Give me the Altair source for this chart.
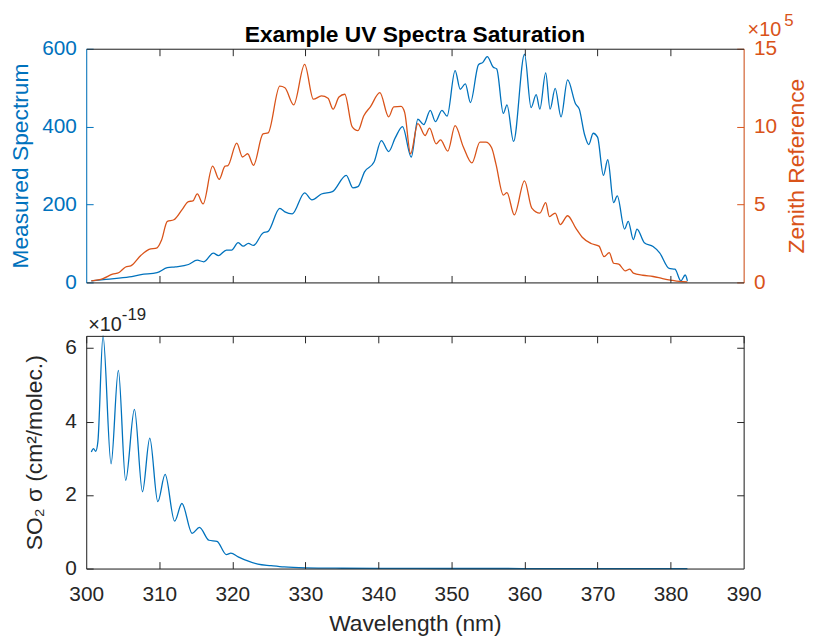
import altair as alt
import pandas as pd

# ---------------- data ----------------
wl_meas = [300.7, 302.7, 305.9, 307.5, 309.7, 311.1, 312.2, 314.0, 315.2, 316.1,
           317.4, 318.1, 319.2, 319.9, 320.8, 321.5, 322.2, 322.9, 324.2, 324.9,
           326.5, 327.2, 328.2, 329.9, 330.9, 332.2, 333.7, 335.6, 336.5, 337.2,
           338.1, 339.4, 340.4, 341.4, 342.3, 343.3, 344.5, 345.4, 346.2, 347.1,
           347.8, 348.7, 349.4, 350.5, 351.2, 351.9, 352.6, 353.7, 354.3, 354.9,
           355.7, 356.2, 357.1, 357.6, 358.5, 360.0, 360.9, 361.6, 362.1, 362.9,
           363.5, 364.2, 365.0, 365.9, 367.0, 367.5, 368.2, 368.8, 369.4, 370.0,
           370.8, 371.4, 372.2, 372.7, 373.7, 374.2, 374.9, 375.4, 376.4, 377.6,
           378.5, 379.8, 380.6, 381.4, 382.0, 382.3]
meas = [4, 8, 14, 20, 25, 38, 40, 46, 57, 53,
        75, 69, 83, 83, 102, 93, 100, 95, 127, 131,
        190, 181, 176, 230, 212, 227, 233, 275, 243, 246,
        284, 309, 364, 336, 371, 400, 322, 419, 405, 442,
        413, 442, 427, 544, 496, 510, 462, 559, 565, 580,
        553, 548, 434, 456, 362, 586, 449, 482, 445, 538,
        445, 498, 425, 520, 458, 445, 381, 354, 383, 373,
        275, 315, 205, 222, 137, 157, 110, 137, 102, 92,
        76, 36, 34, 4, 19, 4]

wl_zen = [300.7, 302.3, 303.6, 304.5, 305.4, 306.1, 307.5, 308.6, 309.7, 310.3,
          311.1, 312.0, 313.1, 314.0, 314.6, 315.2, 316.0, 317.3, 318.2, 319.0,
          319.4, 320.6, 321.4, 322.1, 322.9, 324.2, 324.9, 326.5, 327.2, 328.4,
          329.9, 331.1, 332.2, 333.1, 333.8, 334.6, 335.4, 336.4, 337.2, 338.0,
          338.9, 340.2, 341.4, 342.1, 343.1, 343.6, 344.4, 345.4, 346.4, 347.0,
          347.9, 348.5, 349.5, 350.5, 351.6, 352.8, 353.9, 354.7, 355.5, 356.1,
          357.1, 357.6, 358.6, 360.0, 361.0, 362.1, 362.9, 363.4, 364.2, 364.9,
          365.9, 367.0, 367.9, 369.1, 370.2, 370.9, 371.6, 372.2, 372.9, 373.8,
          374.4, 374.9, 376.2, 377.6, 378.9, 380.0, 381.2, 382.3]
zen_e5 = [0.10, 0.25, 0.53, 0.64, 0.99, 1.06, 1.74, 2.12, 2.22, 2.7,
          3.92, 4.02, 4.66, 5.19, 5.23, 5.68, 5.04, 7.46, 6.61, 7.46,
          7.50, 8.94, 8.05, 8.26, 7.52, 9.53, 9.60, 12.6, 12.5, 11.4,
          14.0, 11.76, 11.97, 11.82, 11.12, 11.9, 12.08, 10.0, 9.74, 10.7,
          11.27, 12.18, 10.63, 11.27, 11.3, 10.9, 8.26, 10.2, 9.43, 9.91,
          8.90, 9.15, 8.43, 10.06, 8.73, 7.67, 9.0, 9.0, 8.64, 7.58,
          5.61, 5.76, 4.34, 6.52, 4.77, 4.45, 5.12, 4.23, 4.45, 3.71,
          4.28, 3.50, 2.9, 2.50, 2.33, 1.65, 1.91, 1.23, 1.17, 0.74,
          0.85, 0.60, 0.46, 0.38, 0.25, 0.15, 0.06, 0.04]

wl_so2 = [300.7, 301.0, 301.3, 301.6, 302.3, 303.4, 304.4, 305.4, 306.6, 307.7,
          308.7, 309.8, 310.8, 312.1, 313.1, 314.5, 315.5, 316.8, 317.9, 319.2,
          319.8, 320.8, 322.2, 323.5, 325.3, 327.1, 330.0, 335.0, 340.0, 350.0,
          360.0, 370.0, 382.3]
so2_e19 = [3.17, 3.26, 3.19, 3.46, 6.33, 2.85, 5.39, 2.40, 4.33, 2.09,
           3.55, 1.82, 2.56, 1.29, 1.77, 0.96, 1.12, 0.77, 0.74, 0.38,
           0.42, 0.32, 0.20, 0.12, 0.08, 0.045, 0.02, 0.008, 0.004, 0.002,
           0.001, 0.0005, 0.0]

x_ticks = [300, 310, 320, 330, 340, 350, 360, 370, 380, 390]
meas_ticks = [0, 200, 400, 600]
zen_ticks = [0, 5, 10, 15]
so2_ticks = [0, 2, 4, 6]

title_text = "Example UV Spectra Saturation"
x_title = "Wavelength (nm)"
meas_title = "Measured Spectrum"
zen_title = "Zenith Reference"
so2_title = "SO\u2082 \u03c3 (cm\u00b2/molec.)"
exp_base = "\u00d710"
zen_exp = "5"
so2_exp = "-19"

# ---------------- styling ----------------
BLUE = "#0072BD"
ORANGE = "#D95319"
DARK = "#262626"
FONT = "Liberation Sans"
W, H1, H2 = 664, 236, 235
TICK = 7
LABEL = 21
TITLE = 23

df_m = pd.DataFrame({"wl": wl_meas, "v": meas})
df_z = pd.DataFrame({"wl": wl_zen, "v": zen_e5})
df_s = pd.DataFrame({"wl": wl_so2, "v": so2_e19})

xscale = alt.Scale(domain=[300, 390], nice=False, zero=False)


def x_axis(orient, labels, values, title=None):
    kw = dict(orient=orient, values=values, labels=labels, ticks=False, tickSize=0,
              domain=True, domainColor=DARK, domainWidth=1, grid=True, gridColor=DARK,
              gridDash=[TICK, 3000], gridWidth=1, gridOpacity=1, zindex=2,
              labelFont=FONT, labelFontSize=LABEL, labelColor=DARK, labelPadding=15,
              labelFlush=False, labelOverlap=False,
              titleFont=FONT, titleFontSize=TITLE, titleColor=DARK, titleFontWeight="normal",
              titlePadding=9)
    if title is not None:
        kw["title"] = title
    return alt.Axis(**kw)


def y_axis(orient, labels, values, color, title=None, title_pad=10, angle=None, baseline=None):
    kw = dict(orient=orient, values=values, labels=labels, ticks=False, tickSize=0,
              domain=True, domainColor=color, domainWidth=1, grid=True, gridColor=color,
              gridDash=[TICK, 3000], gridWidth=1, gridOpacity=1, zindex=1,
              labelFont=FONT, labelFontSize=LABEL, labelColor=color, labelPadding=10,
              titleFont=FONT, titleFontSize=TITLE, titleColor=color, titleFontWeight="normal",
              titlePadding=title_pad)
    if title is not None:
        kw["title"] = title
    if angle is not None:
        kw["titleAngle"] = angle
    if baseline is not None:
        kw["titleBaseline"] = baseline
    return alt.Axis(**kw)


def label(text, x, y, size, color, align="left", weight="normal"):
    return alt.Chart(pd.DataFrame({"t": [text]})).mark_text(
        align=align, baseline="alphabetic", font=FONT, fontSize=size, color=color,
        fontWeight=weight
    ).encode(text="t:N", x=alt.value(x), y=alt.value(y))


# ---------------- top panel ----------------
meas_line = alt.Chart(df_m).mark_line(color=BLUE, strokeWidth=1.3, interpolate="monotone").encode(
    x=alt.X("wl:Q", scale=xscale, title=None,
            axis=x_axis("bottom", False, x_ticks[1:-1])),
    y=alt.Y("v:Q", scale=alt.Scale(domain=[0, 600], nice=False),
            axis=y_axis("left", True, meas_ticks, BLUE, title=meas_title, title_pad=9)),
)
zen_line = alt.Chart(df_z).mark_line(color=ORANGE, strokeWidth=1.3, interpolate="monotone").encode(
    x=alt.X("wl:Q", scale=xscale, title=None,
            axis=x_axis("top", False, x_ticks[1:-1])),
    y=alt.Y("v:Q", scale=alt.Scale(domain=[0, 15], nice=False),
            axis=y_axis("right", True, zen_ticks, ORANGE, title=zen_title, title_pad=9,
                        angle=270, baseline="top")),
)
top = alt.layer(
    meas_line, zen_line,
    label(title_text, W / 2, -7, TITLE, "black", align="center", weight="bold"),
    label(exp_base, 668, -13, 20, ORANGE),
    label(zen_exp, 705, -23, 17, ORANGE),
).resolve_scale(y="independent").resolve_axis(x="independent", y="independent").properties(
    width=W, height=H1,
)

# ---------------- bottom panel ----------------
so2_scale = alt.Scale(domain=[0, 6.33], nice=False)
so2_line = alt.Chart(df_s).mark_line(color=BLUE, strokeWidth=1.3, interpolate="monotone").encode(
    x=alt.X("wl:Q", scale=xscale,
            axis=x_axis("bottom", True, x_ticks, title=x_title)),
    y=alt.Y("v:Q", scale=so2_scale,
            axis=y_axis("left", True, so2_ticks, DARK, title=so2_title, title_pad=18)),
)
so2_frame = alt.Chart(df_s).mark_line(opacity=0).encode(
    x=alt.X("wl:Q", scale=xscale, title=None, axis=x_axis("top", False, x_ticks[1:-1])),
    y=alt.Y("v:Q", scale=so2_scale, title=None,
            axis=y_axis("right", False, so2_ticks[1:], DARK)),
)
bottom = alt.layer(
    so2_line, so2_frame,
    label(exp_base, 2, -5, 20, DARK),
    label(so2_exp, 36, -16, 17, DARK),
).resolve_axis(x="independent", y="independent").properties(width=W, height=H2)

chart = alt.vconcat(top, bottom, spacing=54, bounds="flush").properties(
    padding={"left": 1, "top": 0, "right": 0, "bottom": 0}
).configure_view(stroke=None).configure(background="white")

chart.save("out.html", embed_options={"renderer": "svg", "actions": False})
